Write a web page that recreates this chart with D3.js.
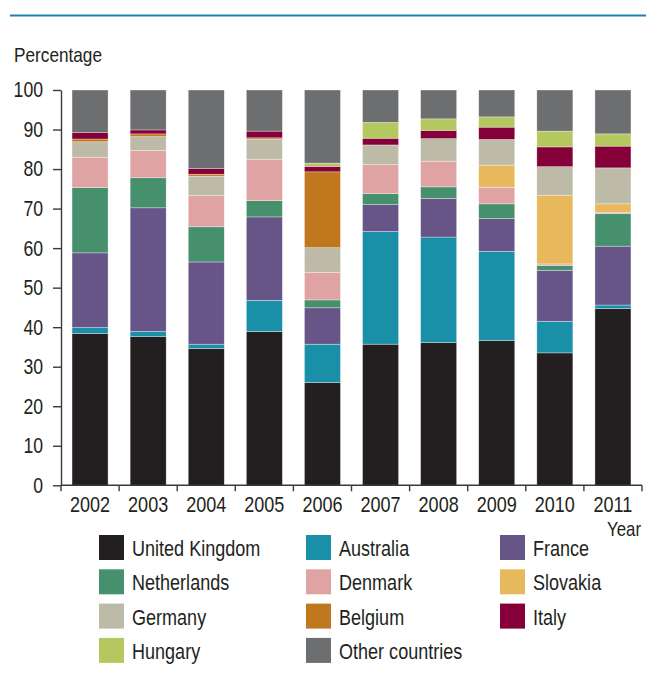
<!DOCTYPE html>
<html>
<head>
<meta charset="utf-8">
<script src="https://cdn.jsdelivr.net/npm/d3@7"></script>
<style>
  html, body { margin: 0; padding: 0; background: #fff; }
  #chart { width: 646px; height: 686px; }
  text { font-family: "Liberation Sans", Arial, sans-serif; fill: #231f20; }
  .axis path, .axis line { stroke: #3a3a3a; stroke-width: 1.4; }
  .axis text { font-size: 21.5px; }
</style>
</head>
<body>
<div id="chart"></div>
<script>
// data
const years = ['2002', '2003', '2004', '2005', '2006', '2007', '2008', '2009', '2010', '2011'];
const countries = ['United Kingdom', 'Australia', 'France', 'Netherlands', 'Denmark', 'Slovakia',
    'Germany', 'Belgium', 'Italy', 'Hungary', 'Other countries'];
const unitedKingdom = [38.4, 37.6, 34.6, 38.9, 26.0, 35.7, 36.1, 36.6, 33.5, 44.7];
const australia     = [1.5, 1.3, 1.1, 7.9, 9.7, 28.5, 26.7, 22.6, 8.0, 0.9];
const france        = [18.9, 31.3, 20.8, 21.1, 9.2, 6.8, 9.8, 8.3, 12.9, 14.9];
const netherlands   = [16.5, 7.6, 8.9, 4.1, 2.0, 2.8, 2.9, 3.7, 1.2, 8.2];
const denmark       = [7.7, 6.9, 7.9, 10.5, 7.0, 7.3, 6.5, 4.2, 0.4, 0.4];
const slovakia      = [0, 0, 0, 0, 0, 0, 0, 5.6, 17.4, 2.1];
const germany       = [3.9, 3.5, 4.9, 5.1, 6.2, 5.0, 5.7, 6.5, 7.2, 9.1];
const belgium       = [0.7, 0.7, 0.5, 0.3, 19.2, 0, 0, 0, 0, 0];
const italy         = [1.6, 1.0, 1.5, 1.7, 1.4, 1.7, 2.1, 3.1, 5.0, 5.5];
const hungary       = [0, 0, 0, 0, 0.8, 4.0, 2.9, 2.6, 4.0, 3.1];
const otherCountries = [10.8, 10.1, 19.8, 10.4, 18.5, 8.2, 7.3, 6.8, 10.4, 11.1];
const yTicks = [0, 10, 20, 30, 40, 50, 60, 70, 80, 90, 100];

const series = [unitedKingdom, australia, france, netherlands, denmark, slovakia,
    germany, belgium, italy, hungary, otherCountries];
const colors = ['#231f20', '#1a90a8', '#675587', '#46906e', '#e0a3a3', '#e8b95c',
    '#bdbba8', '#c0781e', '#850038', '#b4c85f', '#6d6e70'];

// 表格
const table = years.map((y, i) => {
    const row = { year: y };
    countries.forEach((c, k) => { row[c] = series[k][i]; });
    return row;
});

// ***************尺寸***************
const width = 646;
const height = 686;
const paddingLeft = 61;
const paddingRight = 4;
const plotTop = 90;
const plotBottom = 485.3;
const narrow = 0.82; // 窄体字宽度

const xScale = d3.scaleBand()
    .domain(years)
    .range([paddingLeft, width - paddingRight])
    .paddingInner(0.38)
    .paddingOuter(0.19);
const yScale = d3.scaleLinear()
    .domain([0, 100])
    .range([plotBottom, plotTop]);
const color = d3.scaleOrdinal().domain(countries).range(colors);

const svg = d3.select('#chart').append('svg')
    .attr('width', width)
    .attr('height', height);

// 标题下划线
svg.append('line')
    .attr('x1', 10)
    .attr('x2', width)
    .attr('y1', 15.5)
    .attr('y2', 15.5)
    .attr('stroke', '#1a84b8')
    .attr('stroke-width', 2);

svg.append('text')
    .attr('transform', `translate(14,62) scale(${narrow},1)`)
    .style('font-size', '21px')
    .text('Percentage');

// ***************堆叠柱***************
const stacked = d3.stack().keys(countries)(table);

svg.append('g')
    .selectAll('g')
    .data(stacked)
    .enter()
    .append('g')
    .attr('fill', (d) => color(d.key))
    .selectAll('rect')
    .data((d) => d)
    .enter()
    .append('rect')
    .attr('x', (d) => xScale(d.data.year))
    .attr('width', xScale.bandwidth())
    .attr('y', (d) => yScale(d[1]))
    .attr('height', (d) => yScale(d[0]) - yScale(d[1]))
    .attr('stroke', '#ffffff')
    .attr('stroke-opacity', 0.55)
    .attr('stroke-width', (d) => (d[1] - d[0] > 0 ? 0.6 : 0));

// ***************坐标轴***************
const yAxis = d3.axisLeft(yScale)
    .tickValues(yTicks)
    .tickSize(8)
    .tickSizeOuter(0)
    .tickPadding(9);
const yg = svg.append('g')
    .attr('class', 'axis')
    .attr('transform', `translate(${paddingLeft},0)`)
    .call(yAxis);
yg.selectAll('.tick text')
    .attr('x', -18 / narrow)
    .attr('transform', `scale(${narrow},1)`);

const xAxis = d3.axisBottom(xScale)
    .tickSize(0)
    .tickSizeOuter(0)
    .tickPadding(11);
const xg = svg.append('g')
    .attr('class', 'axis')
    .attr('transform', `translate(0,${plotBottom})`)
    .call(xAxis);
xg.select('.domain').attr('d', `M${paddingLeft},0H${width - paddingRight}`);
xg.selectAll('.tick text')
    .style('font-size', '22px')
    .attr('transform', `scale(${narrow},1)`);

// 分隔刻度
const step = xScale.step();
const bounds = years.map((y) => xScale(y) - (step - xScale.bandwidth()) / 2)
    .concat([width - paddingRight]);
xg.selectAll('.sep')
    .data(bounds)
    .enter()
    .append('line')
    .attr('class', 'sep')
    .attr('x1', (d) => d)
    .attr('x2', (d) => d)
    .attr('y1', 0)
    .attr('y2', 6);

svg.append('text')
    .attr('transform', `translate(${width - 5},536) scale(${narrow},1)`)
    .attr('text-anchor', 'end')
    .style('font-size', '20.5px')
    .text('Year');

// ***************图例***************
const legendCols = [99, 306, 500];
const legendTop = 535;
const legendRow = 34.3;
const legend = svg.append('g')
    .selectAll('g')
    .data(countries)
    .enter()
    .append('g')
    .attr('transform', (d, i) => `translate(${legendCols[i % 3]},${legendTop + Math.floor(i / 3) * legendRow})`);
legend.append('rect')
    .attr('width', 25)
    .attr('height', 25)
    .attr('fill', (d) => color(d));
legend.append('text')
    .attr('transform', `translate(33,21) scale(${narrow},1)`)
    .style('font-size', '22px')
    .text((d) => d);
</script>
</body>
</html>
